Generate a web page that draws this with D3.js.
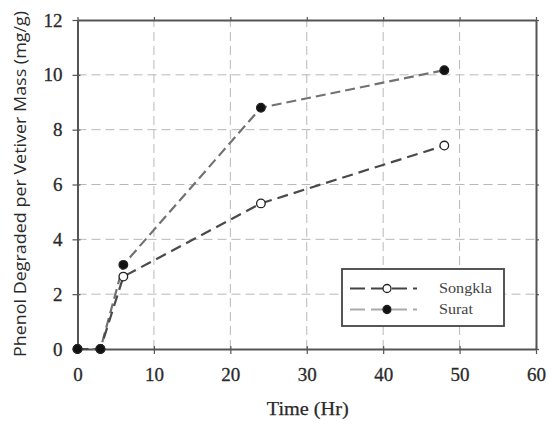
<!DOCTYPE html>
<html>
<head>
<meta charset="utf-8">
<script src="https://cdn.jsdelivr.net/npm/d3@7"></script>
<style>
  html, body { margin: 0; padding: 0; background: #fff; }
  svg { display: block; font-family: "Liberation Serif", "Times New Roman", serif; }
</style>
</head>
<body>
<svg id="chart" width="548" height="426"></svg>
<script>
// Phenol degraded per vetiver mass over time for two vetiver ecotypes
const timeHr = [0, 3, 6, 24, 48];
const songkla = [0, 0, 2.64, 5.31, 7.42];
const surat = [0, 0, 3.07, 8.8, 10.17];
const seriesNames = ["Songkla", "Surat"];
const xTicks = [0, 10, 20, 30, 40, 50, 60];
const yTicks = [0, 2, 4, 6, 8, 10, 12];

const svg = d3.select("#chart");
const margin = { left: 77.5, right: 12, top: 20, bottom: 77 };
const W = 548, H = 426;

const x = d3.scaleLinear().domain([0, 60]).range([margin.left, W - margin.right]);
const y = d3.scaleLinear().domain([0, 12]).range([H - margin.bottom, margin.top]);

// dashed grid
const grid = svg.append("g").attr("stroke", "#b8b8b8").attr("stroke-width", 1).attr("stroke-dasharray", "9,5");
grid.selectAll("line.v").data(xTicks.slice(1, -1)).join("line")
  .attr("x1", d => x(d)).attr("x2", d => x(d)).attr("y1", y(0)).attr("y2", y(12));
grid.selectAll("line.h").data(yTicks.slice(1, -1)).join("line")
  .attr("x1", x(0)).attr("x2", x(60)).attr("y1", d => y(d)).attr("y2", d => y(d));

// axes with ticks crossing the frame
const axisColor = "#555";
const axBottom = svg.append("g").attr("transform", `translate(0,${y(0)})`)
  .call(d3.axisBottom(x).tickValues(xTicks).tickSize(5).tickPadding(14).tickSizeOuter(0));
const axLeft = svg.append("g").attr("transform", `translate(${x(0)},0)`)
  .call(d3.axisLeft(y).tickValues(yTicks).tickSize(5).tickPadding(10).tickSizeOuter(0));
const axTop = svg.append("g").attr("transform", `translate(0,${y(12)})`)
  .call(d3.axisTop(x).tickValues(xTicks).tickSize(3).tickFormat("").tickSizeOuter(0));
const axRight = svg.append("g").attr("transform", `translate(${x(60)},0)`)
  .call(d3.axisRight(y).tickValues(yTicks).tickSize(3).tickFormat("").tickSizeOuter(0));
[axBottom, axLeft, axTop, axRight].forEach(g => {
  g.select(".domain").attr("stroke", axisColor).attr("stroke-width", 2);
  g.selectAll(".tick line").attr("stroke", axisColor).attr("stroke-width", 1.2);
  g.selectAll("text").attr("font-family", "Liberation Serif, serif").attr("font-size", 19)
    .attr("fill", "#2a2a2a").attr("stroke", "#2a2a2a").attr("stroke-width", 0.3);
});
// extend ticks to straddle the frame
axBottom.selectAll(".tick line").attr("y1", -3);
axLeft.selectAll(".tick line").attr("x1", 3);

// axis titles
svg.append("text").attr("x", x(30) + 1).attr("y", 415).attr("text-anchor", "middle")
  .attr("font-size", 19).attr("fill", "#2a2a2a").attr("stroke", "#2a2a2a").attr("stroke-width", 0.25)
  .attr("textLength", 82).attr("lengthAdjust", "spacingAndGlyphs").text("Time (Hr)");
svg.append("text").attr("transform", "translate(26,184) rotate(-90)")
  .attr("text-anchor", "middle").attr("font-family", "Open Sans, sans-serif")
  .attr("font-size", 17).attr("fill", "#2a2a2a")
  .attr("textLength", 346).attr("lengthAdjust", "spacingAndGlyphs")
  .text("Phenol Degraded per Vetiver Mass (mg/g)");

// series
const styles = [
  { name: seriesNames[0], values: songkla, stroke: "#4a4a4a", dash: "11,6", fill: "#fff", legendStroke: "#444", textLen: 53 },
  { name: seriesNames[1], values: surat, stroke: "#727272", dash: "10,5", fill: "#111", legendStroke: "#aaa", textLen: 34 }
];
const line = d3.line().x((d, i) => x(timeHr[i])).y(d => y(d));

styles.slice().reverse().forEach(s => {
  svg.append("path").datum(s.values).attr("d", line)
    .attr("fill", "none").attr("stroke", s.stroke).attr("stroke-width", 2.2)
    .attr("stroke-dasharray", s.dash);
});
styles.forEach(s => {
  svg.append("g").selectAll("circle").data(s.values).join("circle")
    .attr("cx", (d, i) => x(timeHr[i])).attr("cy", d => y(d)).attr("r", 4.3)
    .attr("fill", s.fill).attr("stroke", "#222").attr("stroke-width", 1.3);
});

// legend
const lg = svg.append("g").attr("transform", "translate(342,269)");
lg.append("rect").attr("width", 162).attr("height", 57)
  .attr("fill", "#fff").attr("stroke", "#444").attr("stroke-width", 1.8);
styles.forEach((s, i) => {
  const ly = 19.5 + i * 21;
  lg.append("line").attr("x1", 8).attr("x2", 75).attr("y1", ly).attr("y2", ly)
    .attr("stroke", s.legendStroke).attr("stroke-width", 2).attr("stroke-dasharray", "15,6");
  lg.append("circle").attr("cx", 45).attr("cy", ly).attr("r", 4)
    .attr("fill", s.fill).attr("stroke", "#222").attr("stroke-width", 1.3);
  lg.append("text").attr("x", 97).attr("y", ly + 4.5).attr("font-size", 14).attr("fill", "#444")
    .attr("textLength", s.textLen).attr("lengthAdjust", "spacingAndGlyphs").text(s.name);
});
</script>
</body>
</html>
